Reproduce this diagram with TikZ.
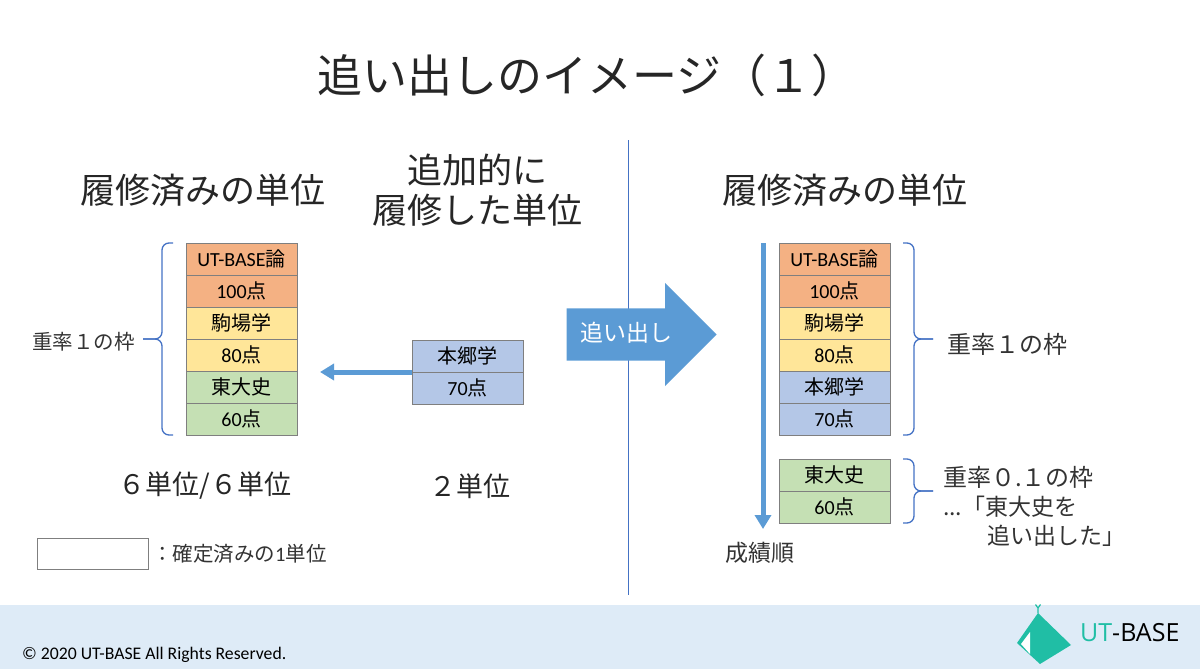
\documentclass[tikz,border=0pt]{standalone}
\usepackage{fontspec}
\setmainfont{Noto Sans CJK JP}
\newfontfamily\calibri{Carlito}
\newfontfamily\logofont{Open Sans}
\usepackage{tikz}
\usetikzlibrary{positioning,arrows.meta,shapes.arrows}
\definecolor{orangefill}{RGB}{244,177,131}
\definecolor{yellowfill}{RGB}{255,230,153}
\definecolor{greenfill}{RGB}{197,224,180}
\definecolor{bluefill}{RGB}{180,199,231}
\definecolor{cellline}{RGB}{127,127,127}
\definecolor{arrowblue}{RGB}{91,155,213}
\definecolor{divider}{RGB}{68,114,196}
\definecolor{footer}{RGB}{222,235,247}
\definecolor{logoteal}{RGB}{32,190,165}
\newcommand*{\sz}[1]{\fontsize{#1}{#1}\selectfont}
\newcommand*{\lat}[1]{{\calibri #1}}
\tikzset{%
  cell/.style={draw=cellline, line width=1pt, minimum width=111pt, minimum height=32pt,
    inner sep=0pt, outer sep=0pt, font=\sz{20}},
  ocell/.style={cell, fill=orangefill},% 1st course
  ycell/.style={cell, fill=yellowfill},% 2nd course
  gcell/.style={cell, fill=greenfill},% pushed out course
  bcell/.style={cell, fill=bluefill},% added course
  note/.style={inner sep=0pt, text=black!80},
  heading/.style={inner sep=0pt, text=black!85, font=\fontsize{35}{40}\selectfont, align=center},
  curly/.style={draw=divider, line width=1.3pt, rounded corners=7pt},
  flow/.style={draw=arrowblue, line width=5pt, -{Triangle[width=16pt,length=14pt]}},
  bigarrow/.style={shape=single arrow, fill=arrowblue, inner sep=26pt,
    single arrow head extend=25.5pt, single arrow head indent=0pt, minimum height=150pt}
}

\begin{document}
\begin{tikzpicture}[x=1pt,y=-1pt]
\useasboundingbox (0,0) rectangle (1200,669);

% title and headings
\node[heading, font=\sz{45}] (title) at (587,75) {追い出しのイメージ（１）};
\node[heading] (lHead) at (203,190) {履修済みの単位};
\node[heading] (mHead) at (477,190) {追加的に\\履修した単位};
\node[heading] (rHead) at (845,190) {履修済みの単位};

% left stack
\node[ocell] (lUT) at (241.5,259) {\lat{UT-BASE}論};
\node[ocell, below=0pt of lUT] (lUTpt) {\lat{100}点};
\node[ycell, below=0pt of lUTpt] (lKoma) {駒場学};
\node[ycell, below=0pt of lKoma] (lKomapt) {\lat{80}点};
\node[gcell, below=0pt of lKomapt] (lTodai) {東大史};
\node[gcell, below=0pt of lTodai] (lTodaipt) {\lat{60}点};

\coordinate (lTip) at ([xshift=-43pt]lKomapt.north west);
\draw[curly] ([xshift=-13pt]lUT.north west) -| ([xshift=-24pt]lKomapt.north west) -- (lTip);
\draw[curly] ([xshift=-13pt]lTodaipt.south west) -| ([xshift=-24pt]lKomapt.north west) -- (lTip);
\node[note, left=8pt of lTip, yshift=-3pt, font=\sz{20.5}] (lWeight) {重率１の枠};

% added course
\node[bcell] (mHongo) at (467.5,356) {本郷学};
\node[bcell, below=0pt of mHongo] (mHongopt) {\lat{70}点};
\coordinate (lIn) at (320,372);
\draw[flow] (mHongo.south west) -- (lIn);

\node[note, text=black!85, font=\sz{27}] (lUnits) at (205,486) {６単位/６単位};
\node[note, text=black!85, font=\sz{27}] (mUnits) at (470,486) {２単位};

% legend
\node[cell, minimum height=31pt, fill=white] (legend) at (92.5,553.5) {};
\node[note, right=4pt of legend, font=\sz{20.5}] (legendTxt) {：確定済みの\lat{1}単位};

% divider and push arrow
\draw[divider, line width=1pt] (628,140) -- (628,595);
\node[bigarrow, anchor=tip] (push) at (717,334.5) {};
\node[note, text=white, font=\sz{23}] (pushTxt) at (626,333) {追い出し};

% right stack
\node[ocell] (rUT) at (834.5,259) {\lat{UT-BASE}論};
\node[ocell, below=0pt of rUT] (rUTpt) {\lat{100}点};
\node[ycell, below=0pt of rUTpt] (rKoma) {駒場学};
\node[ycell, below=0pt of rKoma] (rKomapt) {\lat{80}点};
\node[bcell, below=0pt of rKomapt] (rHongo) {本郷学};
\node[bcell, below=0pt of rHongo] (rHongopt) {\lat{70}点};

\node[gcell] (rTodai) at (834.5,475) {東大史};
\node[gcell, below=0pt of rTodai] (rTodaipt) {\lat{60}点};

\coordinate (rTip) at ([xshift=43pt]rKomapt.north east);
\draw[curly] ([xshift=13pt]rUT.north east) -| ([xshift=24pt]rKomapt.north east) -- (rTip);
\draw[curly] ([xshift=13pt]rHongopt.south east) -| ([xshift=24pt]rKomapt.north east) -- (rTip);
\node[note, right=14pt of rTip, yshift=-5pt, font=\sz{24}] (rWeight) {重率１の枠};

\coordinate (rLowTip) at ([xshift=43pt]rTodai.south east);
\draw[curly] ([xshift=13pt]rTodai.north east) -| ([xshift=24pt]rTodai.south east) -- (rLowTip);
\draw[curly] ([xshift=13pt]rTodaipt.south east) -| ([xshift=24pt]rTodai.south east) -- (rLowTip);
\node[note, anchor=west, font=\sz{24}] (rLow) at (943,477) {重率０.１の枠};
\node[note, anchor=west, font=\sz{23}] (rOut1) at (943,507) {...「東大史を};
\node[note, anchor=east, font=\sz{23}] (rOut2) at (1126,536) {追い出した」};

\draw[flow] ([xshift=-16pt]rUT.north west) -- ([xshift=-16pt, yshift=-6pt]rTodaipt.south west);
\node[note, font=\sz{23}] (rOrder) at (760,553) {成績順};

% footer
\fill[footer] (0,605) rectangle (1200,669);
\node[note, anchor=west, text=black, font=\calibri\sz{17.7}] (copy) at (22,655) {© 2020 UT-BASE All Rights Reserved.};
\fill[logoteal] (1038,613) -- (1071,645) -- (1040,664) -- (1017,643) -- cycle;
\fill[white] (1030,632) -- (1030,654) -- (1021,644) -- cycle;
\draw[logoteal, line width=1.2pt] (1038,613) -- (1038,608) -- (1035.5,604.5) (1038,608) -- (1040.5,604.5);
\node[inner sep=0pt, anchor=west, font=\logofont\sz{25}] (logo) at (1080,633) {\textcolor{logoteal}{UT}-BASE};
\end{tikzpicture}
\end{document}
